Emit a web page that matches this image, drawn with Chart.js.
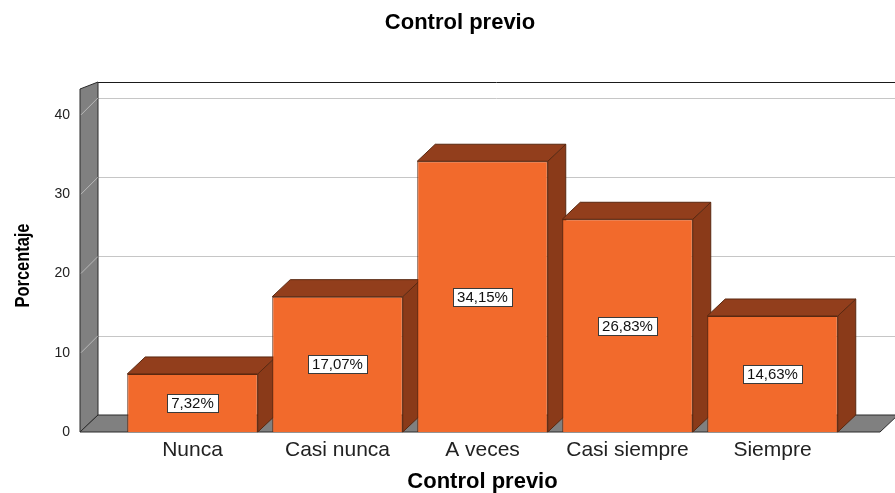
<!DOCTYPE html>
<html>
<head>
<meta charset="utf-8">
<script src="https://cdn.jsdelivr.net/npm/chart.js@4.4.1/dist/chart.umd.min.js"></script>
<style>
  html, body { margin: 0; padding: 0; background: #fff; }
  #wrap { width: 895px; height: 493px; }
</style>
</head>
<body>
<div id="wrap"><canvas id="chart" width="895" height="493"></canvas></div>
<script>
// --- Data ---
const categories = ['Nunca', 'Casi nunca', 'A veces', 'Casi siempre', 'Siempre'];
const percentages = [7.32, 17.07, 34.15, 26.83, 14.63];
const yTickValues = [0, 10, 20, 30, 40];
const yMax = 42;
const chartTitle = 'Control previo';
const xTitle = 'Control previo';
const yTitle = 'Porcentaje';

// --- 3D look ---
const DX = 18, DY = -17;
const FRONT = '#f26a2c';
const TOP = '#923e1c';
const SIDE = '#8a3a19';
const EDGE = '#5a2810';
const WALL = '#808080';
const SANS = '"Liberation Sans", Arial, sans-serif';

function poly(ctx, pts, fill, stroke) {
    ctx.beginPath();
    ctx.moveTo(pts[0][0], pts[0][1]);
    for (let i = 1; i < pts.length; i++) ctx.lineTo(pts[i][0], pts[i][1]);
    ctx.closePath();
    if (fill) { ctx.fillStyle = fill; ctx.fill(); }
    if (stroke) { ctx.strokeStyle = stroke; ctx.lineWidth = 1; ctx.stroke(); }
}

function line(ctx, x1, y1, x2, y2) {
    ctx.beginPath();
    ctx.moveTo(x1, y1);
    ctx.lineTo(x2, y2);
    ctx.stroke();
}

const box3d = {
    id: 'box3d',
    beforeDatasetsDraw(chart) {
        const { ctx, chartArea: a, scales: { y } } = chart;
        const left = a.left - 40, right = a.right + 35;
        const base = y.getPixelForValue(0);
        const top = a.top;
        const W = chart.width;
        ctx.save();
        ctx.lineWidth = 1;

        // gridlines on the back wall
        ctx.strokeStyle = '#c6c6c6';
        yTickValues.forEach(v => {
            if (v === 0) return;
            const py = Math.round(y.getPixelForValue(v) + DY) + 0.5;
            line(ctx, left + DX, py, W, py);
        });
        ctx.strokeStyle = '#1a1a1a';
        line(ctx, left + DX, Math.round(top + DY) + 0.5, W, Math.round(top + DY) + 0.5);

        // left wall
        poly(ctx, [[left, top - 10], [left + DX, top + DY], [left + DX, base + DY], [left, base]], WALL, '#2a2a2a');
        ctx.strokeStyle = '#b8b8b8';
        yTickValues.forEach(v => {
            if (v === 0) return;
            const py = y.getPixelForValue(v);
            line(ctx, left + 1, py, left + DX, py + DY);
        });

        // floor
        poly(ctx, [[left, base], [left + DX, base + DY], [right + DX, base + DY], [right, base]], WALL, '#2a2a2a');

        // bar tops and sides
        const meta = chart.getDatasetMeta(0);
        meta.data.forEach(bar => {
            const { x, y: ty, base: by, width } = bar.getProps(['x', 'y', 'base', 'width'], true);
            const l = x - width / 2, r = x + width / 2;
            poly(ctx, [[r, ty], [r + DX, ty + DY], [r + DX, by + DY], [r, by]], SIDE, EDGE);
            poly(ctx, [[l, ty], [l + DX, ty + DY], [r + DX, ty + DY], [r, ty]], TOP, EDGE);
        });
        ctx.restore();
    },
    afterDatasetsDraw(chart) {
        const { ctx } = chart;
        const meta = chart.getDatasetMeta(0);
        ctx.save();
        ctx.font = '15px ' + SANS;
        ctx.textAlign = 'center';
        ctx.textBaseline = 'middle';
        meta.data.forEach((bar, i) => {
            const { x, y: ty, base: by } = bar.getProps(['x', 'y', 'base'], true);
            const txt = percentages[i].toFixed(2).replace('.', ',') + '%';
            const bw = Math.round(ctx.measureText(txt).width + 8);
            const bh = 18;
            const cy = (ty + by) / 2;
            const bx = Math.round(x - bw / 2) + 0.5;
            const byy = Math.round(cy - bh / 2) + 0.5;
            ctx.fillStyle = '#fff';
            ctx.fillRect(bx, byy, bw, bh);
            ctx.strokeStyle = '#3a3a3a';
            ctx.lineWidth = 1;
            ctx.strokeRect(bx, byy, bw, bh);
            ctx.fillStyle = '#111';
            ctx.fillText(txt, x, cy + 1);
        });
        ctx.restore();
    },
    afterDraw(chart) {
        const { ctx, chartArea: a } = chart;
        ctx.save();
        ctx.font = 'bold 22px ' + SANS;
        ctx.fillStyle = '#000';
        ctx.textAlign = 'center';
        ctx.textBaseline = 'middle';
        ctx.fillText(chartTitle, 460, 23);

        // y axis title, narrow bold
        ctx.translate(23, (a.top + a.bottom) / 2);
        ctx.rotate(-Math.PI / 2);
        ctx.scale(0.82, 1);
        ctx.font = 'bold 20px ' + SANS;
        ctx.fillText(yTitle, 0, 0);
        ctx.restore();
    }
};

// --- Chart ---
new Chart(document.getElementById('chart').getContext('2d'), {
    type: 'bar',
    data: {
        labels: categories,
        datasets: [{
            label: 'Porcentaje',
            data: percentages,
            backgroundColor: FRONT,
            borderColor: EDGE,
            borderWidth: 1,
            barPercentage: 0.9,
            categoryPercentage: 1
        }]
    },
    options: {
        responsive: false,
        animation: false,
        layout: { padding: { top: 99, left: 12, right: 50, bottom: 0 } },
        plugins: {
            legend: { display: false },
            tooltip: { enabled: false }
        },
        scales: {
            x: {
                grid: { display: false, drawTicks: false },
                border: { display: false },
                ticks: { color: '#222', font: { family: SANS, size: 21 }, padding: 6, maxRotation: 0 },
                title: { display: true, text: xTitle, color: '#000', font: { family: SANS, size: 22, weight: 'bold', lineHeight: 1 }, padding: 0 },
                afterFit: s => { s.height = 61; }
            },
            y: {
                min: 0,
                max: yMax,
                grid: { display: false, drawTicks: false },
                border: { display: false },
                ticks: { color: '#222', font: { family: SANS, size: 14 }, padding: 50 },
                afterBuildTicks: s => { s.ticks = yTickValues.map(v => ({ value: v })); },
                afterFit: s => { s.width = 108; }
            }
        }
    },
    plugins: [box3d]
});
</script>
</body>
</html>
